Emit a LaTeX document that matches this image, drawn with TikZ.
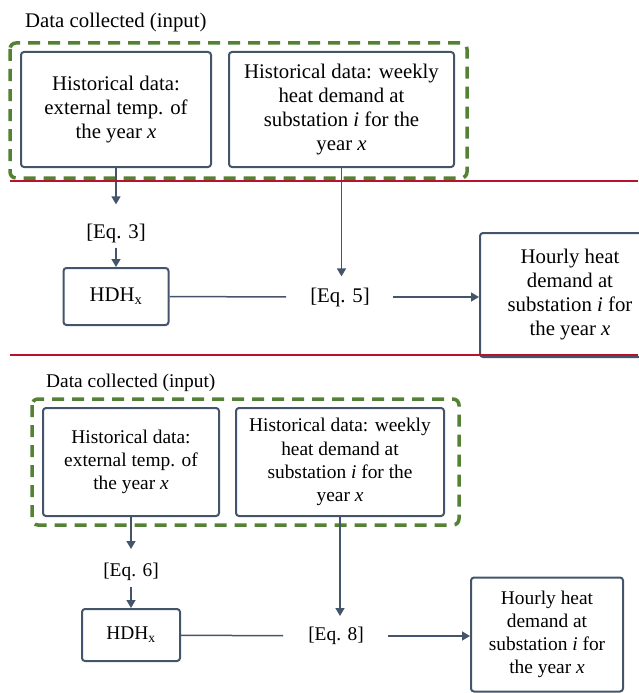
\documentclass[tikz,border=0pt]{standalone}
\usepackage{fontspec}
\setmainfont{Liberation Serif}
\usetikzlibrary{arrows.meta}
\definecolor{slate}{HTML}{44546A}
\definecolor{leaf}{HTML}{548235}
\definecolor{rule}{HTML}{B8122F}

\begin{document}
\begin{tikzpicture}[x=1pt,y=-1pt,
  box/.style={draw=slate, line width=2pt, rounded corners=3pt, align=center, inner sep=0pt},
  big/.style={font=\fontsize{20.8}{24}\selectfont},
  small/.style={font=\fontsize{19.4}{23.2}\selectfont},
  eqlabel/.style={inner sep=0pt},
  arr/.style={draw=slate, line width=1.5pt, -{Triangle[width=9pt,length=8pt]}},
  link/.style={draw=slate, line width=1.5pt},
  group/.style={draw=leaf, line width=3.5pt, dash pattern=on 12pt off 8pt, rounded corners=6pt},
  divider/.style={draw=rule, line width=2pt}]

\useasboundingbox (0,0) rectangle (638,693);

% ---------- first method ----------
\node[big, anchor=base west, inner sep=0pt] (title1) at (25,28) {Data collected (input)};
\draw[group] (10,43) rectangle (467,178);

\node[box, big, minimum width=190pt, minimum height=115pt] (a1) at (116,109.5)
  {Historical data:\\external temp. of\\the year \textit{x}};
\node[box, big, minimum width=225pt, minimum height=115pt] (b1) at (341.5,109.5)
  {Historical data: weekly\\heat demand at\\substation \textit{i} for the\\year \textit{x}};

\node[big, eqlabel] (eq3) at (116,233) {[Eq. 3]};
\node[box, big, minimum width=105pt, minimum height=57pt] (hdh1) at (116,296.5) {HDH\textsubscript{x}};
\node[big, eqlabel] (eq5) at (340,297) {[Eq. 5]};
\node[box, big, minimum width=180pt, minimum height=124pt] (out1) at (570,295)
  {Hourly heat\\demand at\\substation \textit{i} for\\the year \textit{x}};

\draw[arr, shorten >=19pt] (a1) -- (eq3);
\draw[arr, shorten <=5pt] (eq3) -- (hdh1);
\draw[link, shorten >=24pt] (hdh1) -- (eq5);
\draw[arr, shorten <=23pt] (eq5.east) -- (eq5.east -| out1.west);
\draw[arr, shorten >=11pt] (b1.south) -- (b1.south |- eq5.north);

\draw[divider] (10,181) -- (638,181);
\draw[divider] (10,355) -- (638,355);

% ---------- second method ----------
\node[small, anchor=base west, inner sep=0pt] (title2) at (46,387) {Data collected (input)};
\draw[group] (32,399) rectangle (459,525);

\node[box, small, minimum width=176pt, minimum height=108pt] (a2) at (131,462)
  {Historical data:\\external temp. of\\the year \textit{x}};
\node[box, small, minimum width=208pt, minimum height=108pt] (b2) at (340,462)
  {Historical data: weekly\\heat demand at\\substation \textit{i} for the\\year \textit{x}};

\node[small, eqlabel] (eq6) at (131,572) {[Eq. 6]};
\node[box, small, minimum width=98pt, minimum height=52pt] (hdh2) at (131,635) {HDH\textsubscript{x}};
\node[small, eqlabel] (eq8) at (336,636) {[Eq. 8]};
\node[box, small, minimum width=152pt, minimum height=114pt] (out2) at (547,634.5)
  {Hourly heat\\demand at\\substation \textit{i} for\\the year \textit{x}};

\draw[arr, shorten >=14pt] (a2) -- (eq6);
\draw[arr, shorten <=6pt] (eq6) -- (hdh2);
\draw[link, shorten >=25pt] (hdh2) -- (eq8);
\draw[arr, shorten <=24pt] (eq8.east) -- (eq8.east -| out2.west);
\draw[arr, shorten >=11pt] (b2.south) -- (b2.south |- eq8.north);
\end{tikzpicture}
\end{document}
